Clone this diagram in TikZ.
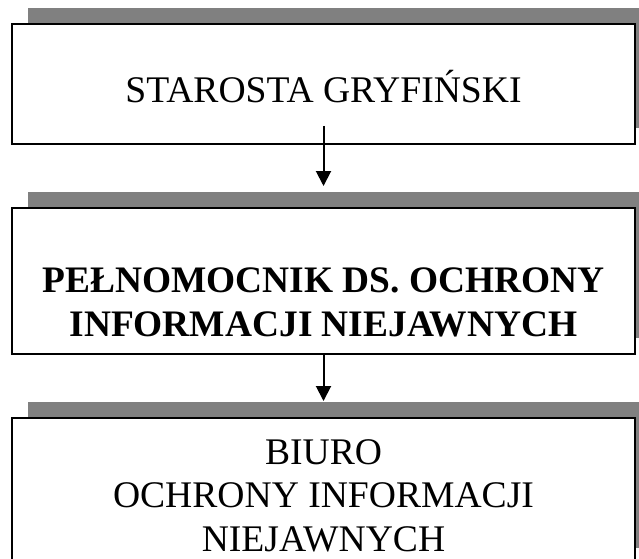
\documentclass[tikz,border=0pt]{standalone}
\usepackage{fontspec}
\setmainfont{Liberation Serif}
\usetikzlibrary{positioning}
\usetikzlibrary{shadows}
\usetikzlibrary{arrows.meta}
\definecolor{shadowgray}{RGB}{128,128,128}

\begin{document}
\begin{tikzpicture}[
    x=1pt, y=1pt,
    font=\fontsize{37.6}{43.5}\selectfont
]
\tikzset{
    boxnode/.style = {rectangle, draw=black, line width=2pt, fill=white,
        minimum width=623pt, inner sep=0pt,
        drop shadow={shadow xshift=16pt, shadow yshift=16pt, opacity=1, fill=shadowgray}},
    boxtext/.style = {align=center, inner sep=0pt},
    edger/.style = {-{Triangle[width=15pt,length=15pt]}, line width=2pt}
}
\useasboundingbox (0,0) rectangle (639,558);
\clip (0,0) rectangle (639,558);
\node[boxnode, minimum height=120pt,
    label={[boxtext, text height=25pt, text depth=0pt, yshift=-6pt]center:STAROSTA GRYFIŃSKI}]
    at (323.5,474) (sta) {};
\node[boxnode, minimum height=146pt,
    label={[boxtext, font=\fontsize{37.4}{44}\selectfont\bfseries, yshift=-21.5pt]center:{PEŁNOMOCNIK DS. OCHRONY\\INFORMACJI NIEJAWNYCH}}]
    at (323.5,277) (pel) {};
\node[boxnode, minimum height=146pt,
    label={[boxtext, yshift=-4.5pt]center:{BIURO\\OCHRONY INFORMACJI\\NIEJAWNYCH}}]
    at (323.5,67) (biu) {};
\draw[edger] ([yshift=19pt]sta.south) -- ([yshift=21pt]pel.north);
\draw[edger] (pel.south) -- ([yshift=16pt]biu.north);
\end{tikzpicture}
\end{document}
